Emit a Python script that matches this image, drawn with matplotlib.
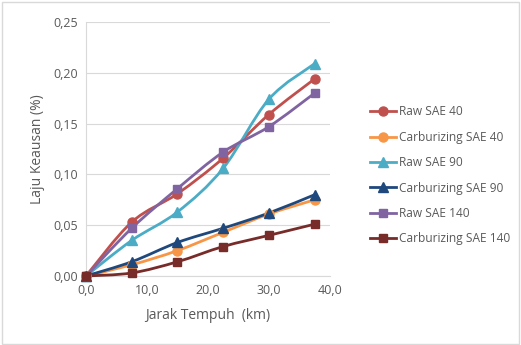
import matplotlib
matplotlib.use("Agg")
import matplotlib.pyplot as plt
from matplotlib.path import Path
from matplotlib.patches import PathPatch, Rectangle
from matplotlib.lines import Line2D
from matplotlib.ticker import FuncFormatter, MultipleLocator

x_km = [0.0, 7.5, 15.0, 22.5, 30.0, 37.5]
raw_sae40 = [0.000, 0.053, 0.081, 0.116, 0.159, 0.194]
carb_sae40 = [0.000, 0.011, 0.025, 0.043, 0.061, 0.075]
raw_sae90 = [0.000, 0.035, 0.063, 0.106, 0.174, 0.209]
carb_sae90 = [0.000, 0.014, 0.033, 0.047, 0.062, 0.080]
raw_sae140 = [0.000, 0.047, 0.086, 0.122, 0.147, 0.180]
carb_sae140 = [0.000, 0.003, 0.014, 0.029, 0.040, 0.051]

labels = ["Raw SAE 40", "Carburizing SAE 40", "Raw SAE 90",
          "Carburizing SAE 90", "Raw SAE 140", "Carburizing SAE 140"]
series = [raw_sae40, carb_sae40, raw_sae90, carb_sae90, raw_sae140, carb_sae140]
colors = ["#C0504D", "#F79646", "#4BACC6", "#1F497D", "#8064A2", "#772C2A"]
markers = ["o", "o", "^", "^", "s", "s"]

plt.rcParams['font.family'] = ['Open Sans', 'DejaVu Sans']
txt = "#595959"

fig = plt.figure(figsize=(5.21, 3.45), dpi=100)
ax = fig.add_axes([0.165, 0.2, 0.468, 0.736])


def smooth_path(xs, ys):
    pts = list(zip(xs, ys))
    verts = [pts[0]]
    codes = [Path.MOVETO]
    n = len(pts)
    for i in range(n - 1):
        p0 = pts[i - 1] if i > 0 else pts[i]
        p1 = pts[i]
        p2 = pts[i + 1]
        p3 = pts[i + 2] if i + 2 < n else pts[i + 1]
        c1 = (p1[0] + (p2[0] - p0[0]) / 6, p1[1] + (p2[1] - p0[1]) / 6)
        c2 = (p2[0] - (p3[0] - p1[0]) / 6, p2[1] - (p3[1] - p1[1]) / 6)
        verts += [c1, c2, p2]
        codes += [Path.CURVE4] * 3
    return Path(verts, codes)


for ys, c, m in zip(series, colors, markers):
    ax.add_patch(PathPatch(smooth_path(x_km, ys), facecolor='none', edgecolor=c,
                           lw=2.0, zorder=3, clip_on=False))
    ax.plot(x_km, ys, linestyle='none', marker=m, color=c,
            markersize=6.5 if m != "s" else 6, zorder=4, clip_on=False)

ax.set_xlim(0, 40)
ax.set_ylim(0, 0.25)
ax.xaxis.set_major_locator(MultipleLocator(10))
ax.yaxis.set_major_locator(MultipleLocator(0.05))
ax.xaxis.set_major_formatter(FuncFormatter(lambda v, p: f"{v:.1f}".replace(".", ",")))
ax.yaxis.set_major_formatter(FuncFormatter(lambda v, p: f"{v:.2f}".replace(".", ",")))
ax.grid(axis='y', color="#D9D9D9", lw=0.8)
ax.set_axisbelow(True)
for s in ['top', 'right']:
    ax.spines[s].set_visible(False)
for s in ['left', 'bottom']:
    ax.spines[s].set_color("#D9D9D9")
    ax.spines[s].set_linewidth(0.8)
ax.tick_params(length=0, labelsize=9, colors=txt, pad=6)
ax.set_xlabel("Jarak Tempuh  (km)", fontsize=10, color=txt, labelpad=8)
ax.set_ylabel("Laju Keausan (%)", fontsize=10, color=txt, labelpad=6)

handles = [Line2D([], [], color=c, marker=m, lw=2.0,
                  markersize=6.5 if m != "s" else 6)
           for c, m in zip(colors, markers)]
fig.legend(handles, labels, loc='upper left', bbox_to_anchor=(0.698, 0.712),
           frameon=False, fontsize=8.6, labelcolor=txt, handlelength=2.2,
           handletextpad=0.3, labelspacing=1.04, borderpad=0)

fig.add_artist(Rectangle((0.003, 0.004), 0.994, 0.99, transform=fig.transFigure,
                         facecolor='none', edgecolor="#D9D9D9", lw=1))

fig.savefig("out.png", dpi=100)
